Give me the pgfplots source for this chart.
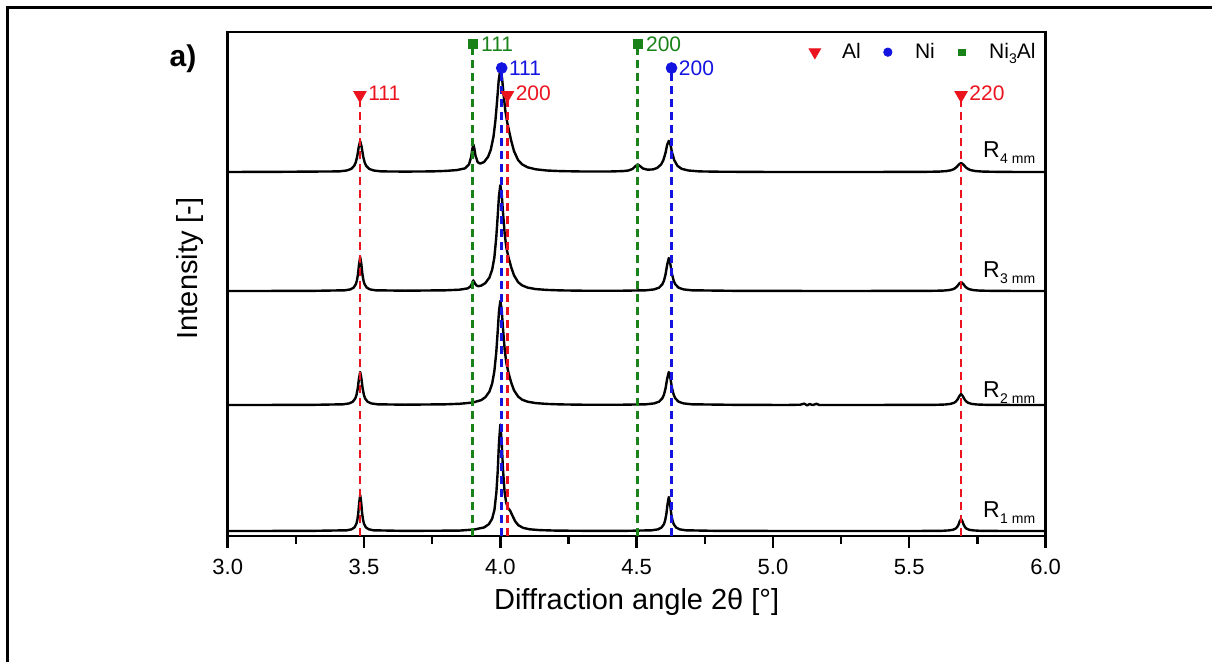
\documentclass[border=0pt]{standalone}
\usepackage{pgfplots}
\pgfplotsset{compat=1.18}
\usepackage{fontspec}
\setmainfont{Liberation Sans}
\definecolor{alred}{RGB}{235,20,30}
\definecolor{niblue}{RGB}{20,20,225}
\definecolor{nagreen}{RGB}{25,130,25}
\newcommand{\pk}{\fontsize{10.5}{12}\selectfont}
\newcommand{\Rlab}[1]{R\kern0.3pt\raisebox{-3pt}{\fontsize{7}{8}\selectfont #1}}
\begin{document}
\begin{tikzpicture}[x=1pt,y=1pt]
\draw[line width=1.5pt] (3.75,-5) -- (3.75,326.75) -- (620,326.75);
\begin{axis}[
  at={(113.85pt,62.5pt)}, anchor=south west,
  scale only axis, width=408.95pt, height=252pt,
  xmin=3, xmax=6, ymin=0, ymax=504,
  clip=false,
  axis line style={line width=1.2pt},
  xtick={3,3.5,...,6}, minor x tick num=1,
  ytick=\empty,
  xtick pos=bottom, tick align=outside,
  major tick length=6pt, minor tick length=4pt,
  tick style={line width=1.2pt, black},
  /pgf/number format/assume math mode=true,
  xticklabel style={/pgf/number format/fixed, /pgf/number format/fixed zerofill, /pgf/number format/precision=1, font=\fontsize{11}{13}\selectfont, yshift=-2pt},
  xlabel={Diffraction angle 2θ [°]},
  ylabel={Intensity [-]},
  xlabel style={at={(axis description cs:0.5,-0.131)}, anchor=center, font=\fontsize{14.5}{16}\selectfont},
  ylabel style={at={(axis description cs:-0.046,0.531)}, anchor=center, font=\fontsize{14.5}{16}\selectfont},
  legend image code/.code={\path (-0.2cm,0cm) (0.6cm,0cm); \draw[#1] plot coordinates {(0.2cm,0cm)};},
  legend style={draw=none, fill=none, inner sep=0pt, at={(axis description cs:0.993,0.960)}, anchor=east, legend columns=3, font=\fontsize{10.5}{12}\selectfont, /tikz/every even column/.append style={column sep=0pt}},
]
\addlegendimage{only marks, mark=triangle*, mark size=3.3pt, mark options={rotate=180}, color=alred}
\addlegendentry{Al}
\addlegendimage{only marks, mark=*, mark size=2.1pt, color=niblue}
\addlegendentry{Ni}
\addlegendimage{only marks, mark=square*, mark size=1.6pt, color=nagreen}
\addlegendentry{Ni\raisebox{-0.5ex}{\fontsize{7}{8}\selectfont 3}Al}

% R4
\addplot[black, line width=1.2pt, line join=round, forget plot] coordinates {
(3.000,364.0) (3.200,364.2) (3.409,364.6) (3.4365,365.5) (3.453,367.1) (3.464,370.2) (3.4695,373.5) (3.475,379.5) (3.4805,388.8) (3.486,395.0) (3.4915,388.8) (3.497,379.5) (3.5025,373.5) (3.508,370.2) (3.519,367.1) (3.5355,365.5) (3.563,364.6) (3.650,364.4) (3.750,364.6) (3.800,365.1) (3.840,365.9) (3.870,367.6) (3.885,371.5) (3.893,379.1) (3.897,386.5) (3.901,391.6) (3.905,387.1) (3.909,380.2) (3.917,373.8) (3.926,372.4) (3.940,373.9) (3.955,379.2) (3.965,386.3) (3.975,399.5) (3.982,415.4) (3.988,434.5) (3.994,455.5) (4.000,466.4) (4.006,458.8) (4.012,441.3) (4.018,426.0) (4.025,414.0) (4.032,405.0) (4.040,395.2) (4.050,385.0) (4.065,376.0) (4.080,371.6) (4.100,368.7) (4.130,366.7) (4.170,365.5) (4.220,364.9) (4.300,364.5) (4.400,364.5) (4.450,364.9) (4.470,365.5) (4.485,367.1) (4.495,369.7) (4.504,371.6) (4.513,369.8) (4.523,367.5) (4.540,366.3) (4.560,366.6) (4.575,368.0) (4.590,371.6) (4.598,375.9) (4.606,383.3) (4.612,391.3) (4.618,395.1) (4.624,391.3) (4.630,383.3) (4.638,375.8) (4.650,370.1) (4.665,367.2) (4.690,365.5) (4.730,364.6) (4.800,364.3) (5.000,364.0) (5.300,364.0) (5.500,364.1) (5.564,364.2) (5.609,364.4) (5.636,364.9) (5.654,365.8) (5.663,366.8) (5.672,368.5) (5.681,371.2) (5.690,373.0) (5.699,371.2) (5.708,368.5) (5.717,366.8) (5.726,365.8) (5.744,364.9) (5.771,364.4) (5.816,364.2) (5.900,364.0) (6.000,364.0)
};
% R3
\addplot[black, line width=1.2pt, line join=round, forget plot] coordinates {
(3.000,245.0) (3.300,245.1) (3.430,245.7) (3.450,246.6) (3.462,248.4) (3.470,251.8) (3.474,255.5) (3.478,262.0) (3.482,272.2) (3.486,279.0) (3.490,272.2) (3.494,262.0) (3.498,255.5) (3.502,251.8) (3.510,248.4) (3.522,246.6) (3.542,245.7) (3.650,245.3) (3.800,245.7) (3.850,246.3) (3.880,247.6) (3.890,249.4) (3.895,251.9) (3.901,255.6) (3.907,252.5) (3.912,250.6) (3.920,249.8) (3.930,250.4) (3.945,252.9) (3.960,258.5) (3.970,266.3) (3.978,278.3) (3.985,298.3) (3.990,318.3) (3.995,339.9) (4.000,350.9) (4.005,342.0) (4.010,322.6) (4.016,302.2) (4.022,288.5) (4.030,278.6) (4.040,268.7) (4.050,260.8) (4.065,253.9) (4.080,250.6) (4.100,248.4) (4.130,246.9) (4.170,246.1) (4.220,245.6) (4.300,245.3) (4.450,245.3) (4.534,245.7) (4.564,246.6) (4.582,248.3) (4.594,251.6) (4.600,255.2) (4.606,261.5) (4.612,271.4) (4.618,278.0) (4.624,271.4) (4.630,261.5) (4.636,255.2) (4.642,251.6) (4.654,248.3) (4.672,246.6) (4.702,245.7) (4.850,245.2) (5.200,245.0) (5.500,245.1) (5.585,245.2) (5.6225,245.4) (5.645,245.9) (5.660,246.8) (5.6675,247.8) (5.675,249.5) (5.6825,252.2) (5.690,254.0) (5.6975,252.2) (5.705,249.5) (5.7125,247.8) (5.720,246.8) (5.735,245.9) (5.7575,245.4) (5.795,245.2) (5.900,245.0) (6.000,245.0)
};
% R2
\addplot[black, line width=1.2pt, line join=round, forget plot] coordinates {
(3.000,131.0) (3.300,131.1) (3.423,131.7) (3.4455,132.6) (3.459,134.3) (3.468,137.6) (3.4725,141.2) (3.477,147.5) (3.4815,157.4) (3.486,164.0) (3.4905,157.4) (3.495,147.5) (3.4995,141.2) (3.504,137.6) (3.513,134.3) (3.5265,132.6) (3.549,131.7) (3.650,131.3) (3.800,131.7) (3.850,132.2) (3.900,133.5) (3.930,135.9) (3.945,138.8) (3.960,144.4) (3.970,152.4) (3.978,164.6) (3.985,183.3) (3.990,203.0) (3.995,224.4) (4.000,235.2) (4.005,226.2) (4.010,206.8) (4.016,186.3) (4.022,173.3) (4.030,163.0) (4.040,153.3) (4.050,145.8) (4.065,139.5) (4.080,136.3) (4.100,134.3) (4.130,132.9) (4.170,132.1) (4.220,131.6) (4.300,131.3) (4.450,131.3) (4.534,131.7) (4.564,132.6) (4.582,134.3) (4.594,137.6) (4.600,141.2) (4.606,147.5) (4.612,157.4) (4.618,164.0) (4.624,157.4) (4.630,147.5) (4.636,141.2) (4.642,137.6) (4.654,134.3) (4.672,132.6) (4.702,131.7) (4.850,131.2) (5.050,131.0) (5.100,131.3) (5.115,132.4) (5.125,130.6) (5.135,132.0) (5.145,130.9) (5.160,132.2) (5.170,131.0) (5.300,131.0) (5.500,131.1) (5.599,131.2) (5.6315,131.5) (5.651,132.1) (5.664,133.2) (5.6705,134.4) (5.677,136.5) (5.6835,139.8) (5.690,142.0) (5.6965,139.8) (5.703,136.5) (5.7095,134.4) (5.716,133.2) (5.729,132.1) (5.7485,131.5) (5.781,131.2) (5.900,131.0) (6.000,131.0)
};
% R1
\addplot[black, line width=1.2pt, line join=round, forget plot] coordinates {
(3.000,5.0) (3.300,5.1) (3.437,5.7) (3.4545,6.7) (3.465,8.6) (3.472,12.2) (3.4755,16.1) (3.479,23.0) (3.4825,33.8) (3.486,41.0) (3.4895,33.8) (3.493,23.0) (3.4965,16.1) (3.500,12.2) (3.507,8.6) (3.5175,6.7) (3.535,5.7) (3.650,5.1) (3.850,5.4) (3.904,6.5) (3.940,8.5) (3.958,11.8) (3.970,17.3) (3.9784,26.1) (3.9856,43.8) (3.9904,64.7) (3.9952,93.8) (4.000,111.4) (4.0048,94.8) (4.0096,66.9) (4.0156,44.0) (4.0216,33.1) (4.0288,27.7) (4.036,25.3) (4.0444,20.4) (4.054,14.9) (4.066,10.8) (4.084,8.1) (4.108,6.7) (4.144,5.9) (4.204,5.4) (4.300,5.2) (4.450,5.1) (4.555,5.7) (4.5775,6.6) (4.591,8.4) (4.600,11.8) (4.6045,15.5) (4.609,22.0) (4.6135,32.2) (4.618,39.0) (4.6225,32.2) (4.627,22.0) (4.6315,15.5) (4.636,11.8) (4.645,8.4) (4.6585,6.6) (4.681,5.7) (4.800,5.1) (5.200,5.0) (5.520,5.0) (5.620,5.2) (5.645,5.6) (5.660,6.2) (5.670,7.4) (5.675,8.7) (5.680,11.0) (5.685,14.6) (5.690,17.0) (5.695,14.6) (5.700,11.0) (5.705,8.7) (5.710,7.4) (5.720,6.2) (5.735,5.6) (5.760,5.2) (5.850,5.0) (6.000,5.0)
};

% reference lines
\pgfplotsset{refline/.style={line width=1.35pt, dash pattern=on 4pt off 2.5pt, forget plot}}
\addplot[refline, nagreen] coordinates {(3.899,0) (3.899,492)};
\addplot[refline, nagreen] coordinates {(4.504,0) (4.504,492)};
\addplot[refline, niblue] coordinates {(4.005,0) (4.005,468)};
\addplot[refline, niblue] coordinates {(4.628,0) (4.628,468)};
\addplot[refline, alred] coordinates {(3.485,0) (3.485,441)};
\addplot[refline, alred] coordinates {(4.026,0) (4.026,441)};
\addplot[refline, alred] coordinates {(5.690,0) (5.690,441)};

\addplot[only marks, mark=triangle*, mark size=3.6pt, mark options={rotate=180}, color=alred, forget plot] coordinates {(3.485,441) (4.026,441) (5.690,441)};
\addplot[only marks, mark=*, mark size=2.7pt, color=niblue, forget plot] coordinates {(4.005,468) (4.628,468)};
\addplot[only marks, mark=square*, mark size=2.4pt, color=nagreen, forget plot] coordinates {(3.899,492) (4.504,492)};

\node[anchor=west, inner sep=0pt, xshift=4pt, yshift=1pt, text=alred, font=\pk] at (axis cs:3.485,441) {111};
\node[anchor=west, inner sep=0pt, xshift=4pt, yshift=1pt, text=alred, font=\pk] at (axis cs:4.026,441) {200};
\node[anchor=west, inner sep=0pt, xshift=4pt, yshift=1pt, text=alred, font=\pk] at (axis cs:5.690,441) {220};
\node[anchor=west, inner sep=0pt, xshift=3.5pt, text=niblue, font=\pk] at (axis cs:4.005,468) {111};
\node[anchor=west, inner sep=0pt, xshift=3.5pt, text=niblue, font=\pk] at (axis cs:4.628,468) {200};
\node[anchor=west, inner sep=0pt, xshift=4pt, text=nagreen, font=\pk] at (axis cs:3.899,492) {111};
\node[anchor=west, inner sep=0pt, xshift=4pt, text=nagreen, font=\pk] at (axis cs:4.504,492) {200};

\node[anchor=base west, inner sep=0pt, font=\fontsize{11.5}{13}\selectfont] at (axis cs:5.769,379) {\Rlab{4 mm}};
\node[anchor=base west, inner sep=0pt, font=\fontsize{11.5}{13}\selectfont] at (axis cs:5.769,259) {\Rlab{3 mm}};
\node[anchor=base west, inner sep=0pt, font=\fontsize{11.5}{13}\selectfont] at (axis cs:5.769,139) {\Rlab{2 mm}};
\node[anchor=base west, inner sep=0pt, font=\fontsize{11.5}{13}\selectfont] at (axis cs:5.769,19) {\Rlab{1 mm}};

\node[anchor=center, font=\bfseries\fontsize{15}{17}\selectfont] at (axis description cs:-0.0547,0.946) {a)};
\end{axis}
\pgfresetboundingbox
\path[use as bounding box] (0,0) rectangle (606,330.5);
\end{tikzpicture}
\end{document}
